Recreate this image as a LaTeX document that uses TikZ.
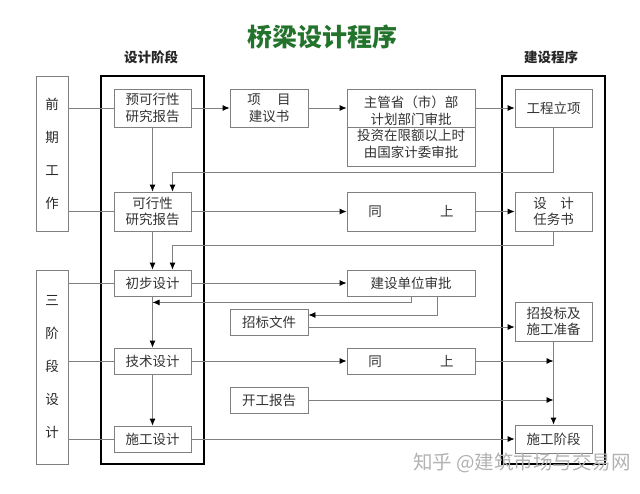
\documentclass[tikz,border=0pt]{standalone}
\usepackage{fontspec}
\setmainfont{Noto Sans CJK SC}
\usetikzlibrary{arrows.meta}
\definecolor{titlegreen}{RGB}{35,115,45}
\tikzset{
  flowbox/.style={draw=black!50, line width=0.8pt, inner sep=0pt, align=center,
    fill=white, text=black!80, font=\fontsize{13.5}{16.5}\selectfont},
  stagebox/.style={draw=black!50, line width=0.8pt, inner sep=0pt, align=center,
    text=black!85, font=\fontsize{13.5}{33}\selectfont},
  phasebox/.style={draw=black, line width=2.2pt, inner sep=0pt},
  headtext/.style={font=\fontsize{13.5}{16}\selectfont\bfseries, text=black!85},
  titletext/.style={font=\fontsize{25}{28}\selectfont\bfseries, text=titlegreen},
  marktext/.style={font=\fontsize{19.5}{22}\selectfont, text=black!30},
  link/.style={draw=black!50, line width=0.8pt},
  flow/.style={link, -{Latex[length=7pt,width=6pt,color=black]}}
}
\newcommand{\flowBox}[5]{\node[flowbox, minimum width=#3, minimum height=#4]
  (#1) at (#2) {#5};}
\begin{document}
\begin{tikzpicture}[x=1pt, y=-1pt]
  \useasboundingbox (0,0) rectangle (640,493);
  % title and column heads
  \node[titletext] (title) at (322,37) {桥梁设计程序};
  \node[headtext] (designHead) at (151,57) {设计阶段};
  \node[headtext] (buildHead) at (551,57) {建设程序};
  % bold frames
  \node[phasebox, minimum width=103, minimum height=388] (designPhase) at (152.5,270) {};
  \node[phasebox, minimum width=103, minimum height=388] (buildPhase) at (553.5,270) {};
  % stage boxes on the left
  \node[stagebox, minimum width=32, minimum height=155] (early) at (52,153.5) {前\\期\\工\\作};
  \node[stagebox, minimum width=32, minimum height=194] (three) at (52,367) {三\\阶\\段\\设\\计};
  % steps
  \flowBox{prefeas}{152.5,108}{77}{38}{预可行性\\研究报告}
  \flowBox{proposal}{269,108}{78}{38}{项\hspace{1.2em}目\\建议书}
  \flowBox{approve}{411,127.5}{128}{77}{主管省（市）部\\计划部门审批\\投资在限额以上时\\由国家计委审批}
  \flowBox{setup}{553.5,108}{77}{38}{工程立项}
  \flowBox{feas}{152.5,211.5}{77}{39}{可行性\\研究报告}
  \flowBox{same1}{411,211.5}{128}{39}{同\hspace{4.3em}上}
  \flowBox{task}{553.5,211.5}{77}{39}{设\hspace{1em}计\\任务书}
  \flowBox{prelim}{152.5,283}{77}{26}{初步设计}
  \flowBox{owner}{411,283}{128}{26}{建设单位审批}
  \flowBox{tender}{269,322}{78}{26}{招标文件}
  \flowBox{bidding}{553.5,321.5}{77}{39}{招投标及\\施工准备}
  \flowBox{tech}{152.5,361}{77}{26}{技术设计}
  \flowBox{same2}{411,361}{128}{26}{同\hspace{4.3em}上}
  \flowBox{startrep}{269,400}{78}{26}{开工报告}
  \flowBox{detail}{152.5,439}{77}{26}{施工设计}
  \flowBox{construct}{553.5,439}{77}{28}{施工阶段}
  \draw[link] (approve.west) -- (approve.east);
  % first row
  \draw[link] (early.east |- prefeas) -- (prefeas);
  \draw[flow] (prefeas) -- (proposal);
  \draw[flow] (proposal.east) -- (proposal.east -| approve.west);
  \draw[flow] (approve.east |- setup) -- (setup);
  \draw[flow] (prefeas) -- (feas);
  \draw[flow] (setup.south) -- ++(0,45) -| ([xshift=20pt]feas.north);
  % second row
  \draw[link] (early.east |- feas) -- (feas);
  \draw[flow] (feas) -- (same1);
  \draw[flow] (same1) -- (task);
  \draw[flow] (feas) -- (prelim);
  \draw[flow] (task.south) -- ++(0,14) -| ([xshift=20pt]prelim.north);
  % three stage design
  \draw[link] (three.east |- prelim) -- (prelim);
  \draw[flow] (prelim) -- (owner);
  \draw[flow] (owner.south) |- ([yshift=-6pt]prelim.south);
  \draw[flow] ([xshift=26pt]owner.south) |- ([yshift=7pt]tender.east);
  \draw[flow] ([yshift=-5pt]tender.east) -- ([yshift=-5pt]tender.east -| bidding.west);
  \draw[flow] (prelim) -- (tech);
  \draw[link] (three.east |- tech) -- (tech);
  \draw[flow] (tech) -- (same2);
  \draw[flow] (same2) -- (same2 -| bidding.south);
  \draw[flow] (startrep) -- (startrep -| bidding.south);
  \draw[flow] (bidding) -- (construct);
  \draw[flow] (tech) -- (detail);
  \draw[link] (three.east |- detail) -- (detail);
  \draw[flow] (detail) -- (construct);
  \node[marktext] (watermark) at (522,463) {知乎 @建筑市场与交易网};
\end{tikzpicture}
\end{document}
